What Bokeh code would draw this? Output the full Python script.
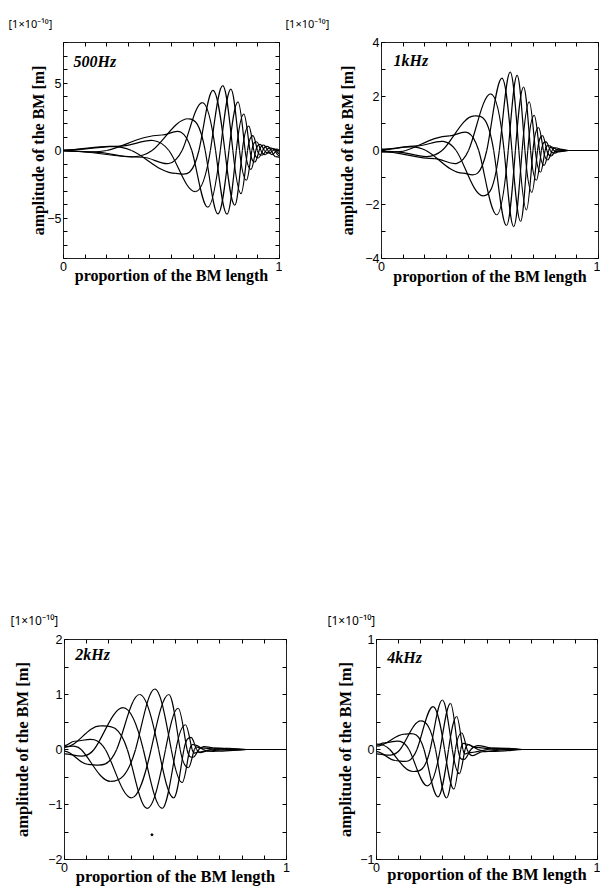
from bokeh.plotting import figure
from bokeh.models import ColumnDataSource, Label, LinearAxis, FixedTicker, Range1d, Spacer, Title
from bokeh.layouts import row, column
from bokeh.embed import file_html
from bokeh.resources import INLINE

# ---------------- data ----------------
N_CURVES = 5          # snapshots of the travelling wave

x_ticks = [0.0, 0.1, 0.2, 0.3, 0.4, 0.5, 0.6, 0.7, 0.8, 0.9, 1.0]
x_tick_labels = ["0", "", "", "", "", "", "", "", "", "", "1"]

# 500 Hz : alternating peak / trough sequence of the envelope, and zero crossings between them
f500_ext_x = [0.14, 0.265, 0.365, 0.455, 0.52, 0.578, 0.61, 0.643, 0.668, 0.692, 0.715, 0.737,
              0.757, 0.775, 0.793, 0.808, 0.822, 0.835, 0.847, 0.858, 0.868, 0.877, 0.886, 0.894,
              0.902, 0.91, 0.918, 0.926, 0.934, 0.942, 0.95, 0.958, 0.966, 0.974, 0.982, 0.99]
f500_ext_y = [-0.12, 0.32, -0.5, 1.15, -1.7, 2.35, -3.05, 3.55, -4.2, 4.45, -4.7, 4.8,
              -4.72, 4.55, -4.05, 3.6, -3.2, 2.7, -2.2, 1.8, -1.4, 1.1, -0.85, 0.65,
              -0.55, 0.45, -0.35, 0.4, -0.3, 0.3, -0.2, 0.2, -0.3, 0.15, -0.45, 0.1]
f500_zero_x = [0.2, 0.315, 0.41, 0.488, 0.549, 0.594, 0.627, 0.656, 0.68, 0.704, 0.726, 0.747,
               0.766, 0.784, 0.8, 0.815, 0.828, 0.841, 0.852, 0.863, 0.872, 0.881, 0.89, 0.898,
               0.906, 0.914, 0.922, 0.93, 0.938, 0.946, 0.954, 0.962, 0.97, 0.978, 0.986]
f500_start = [-0.01, 0.02, -0.02, -0.03, 0.03]
f500_end = [-0.1, -0.4, 0.05, -0.25, -0.5]
f500_y_ticks = [-8, -7, -6, -5, -4, -3, -2, -1, 0, 1, 2, 3, 4, 5, 6, 7, 8]
f500_y_labels = ["", "", "", "\u22125", "", "", "", "", "0", "", "", "", "", "5", "", "", ""]

# 1 kHz
f1k_ext_x = [0.06, 0.165, 0.245, 0.313, 0.375, 0.428, 0.468, 0.503, 0.531, 0.555, 0.576, 0.593,
             0.609, 0.625, 0.641, 0.655, 0.668, 0.681, 0.693, 0.704, 0.714, 0.724, 0.733, 0.742,
             0.75, 0.758, 0.766, 0.774, 0.782, 0.79, 0.798, 0.806, 0.815, 0.824, 0.834]
f1k_ext_y = [-0.04, 0.17, -0.3, 0.54, -0.84, 1.28, -1.68, 2.1, -2.38, 2.68, -2.78, 2.9,
             -2.82, 2.78, -2.62, 2.35, -2.2, 1.8, -1.55, 1.3, -1.1, 0.85, -0.8, 0.55,
             -0.55, 0.32, -0.35, 0.18, -0.2, 0.12, -0.1, 0.1, -0.05, 0.05, -0.02]
f1k_zero_x = [0.112, 0.205, 0.279, 0.344, 0.401, 0.448, 0.485, 0.517, 0.543, 0.565, 0.584, 0.601,
              0.617, 0.633, 0.648, 0.661, 0.674, 0.687, 0.698, 0.709, 0.719, 0.728, 0.737, 0.746,
              0.754, 0.762, 0.77, 0.778, 0.786, 0.794, 0.802, 0.81, 0.819, 0.829]
f1k_start = [-0.02, 0.03, -0.04, -0.05, 0.05]
f1k_merge = 0.86
f1k_y_ticks = [-4, -3, -2, -1, 0, 1, 2, 3, 4]
f1k_y_labels = ["\u22124", "", "\u22122", "", "0", "", "2", "", "4"]

# 2 kHz
f2k_ext_x = [0.045, 0.105, 0.161, 0.207, 0.264, 0.302, 0.338, 0.372, 0.407, 0.44, 0.47, 0.492,
             0.512, 0.53, 0.545, 0.558, 0.57, 0.58, 0.59, 0.6, 0.61, 0.64, 0.67, 0.7, 0.74, 0.78]
f2k_ext_y = [0.15, -0.27, 0.43, -0.58, 0.76, -0.88, 1.0, -1.07, 1.1, -1.07, 1.0, -0.88,
             0.75, -0.6, 0.45, -0.33, 0.22, -0.14, 0.08, -0.05, 0.03, -0.03, 0.03, -0.03, 0.02, -0.01]
f2k_zero_x = [0.075, 0.133, 0.184, 0.235, 0.283, 0.32, 0.355, 0.39, 0.424, 0.455, 0.481, 0.502,
              0.521, 0.538, 0.552, 0.564, 0.575, 0.585, 0.595, 0.605, 0.625, 0.655, 0.685, 0.72, 0.76]
f2k_start = [0.07, -0.03, 0.04, 0.05, -0.08]
f2k_merge = 0.82
f2k_y_ticks = [-2.0, -1.5, -1.0, -0.5, 0.0, 0.5, 1.0, 1.5, 2.0]
f2k_y_labels = ["\u22122", "", "\u22121", "", "0", "", "1", "", "2"]
f2k_speck_x = [0.394]
f2k_speck_y = [-1.55]

# 4 kHz
f4k_ext_x = [0.035, 0.085, 0.128, 0.165, 0.2, 0.23, 0.256, 0.278, 0.298, 0.317, 0.335, 0.35,
             0.363, 0.375, 0.386, 0.396, 0.405, 0.414, 0.44, 0.48, 0.52, 0.56, 0.6]
f4k_ext_y = [0.06, -0.1, 0.14, -0.2, 0.26, -0.33, 0.39, -0.43, 0.45, -0.44, 0.42, -0.36,
             0.3, -0.22, 0.15, -0.09, 0.05, -0.03, 0.02, -0.02, 0.015, -0.015, 0.01]
f4k_zero_x = [0.06, 0.107, 0.147, 0.183, 0.215, 0.243, 0.267, 0.288, 0.308, 0.326, 0.343, 0.357,
              0.369, 0.381, 0.391, 0.401, 0.41, 0.427, 0.46, 0.5, 0.54, 0.58]
f4k_start = [0.04, -0.02, 0.03, 0.05, -0.04]
f4k_merge = 0.66
f4k_y_ticks = [-1.0, -0.75, -0.5, -0.25, 0.0, 0.25, 0.5, 0.75, 1.0]
f4k_y_labels = ["\u22121", "", "", "", "0", "", "", "", "1"]

# ---------------- helpers ----------------
SERIF = "Liberation Serif"
SANS = "Liberation Sans"
EXP_FONT = "Noto Sans"
EXP_TEXT = "[1\u00d710\u207b\u00b9\u2070]"
Y_TITLE = "amplitude of the BM [m]"
X_TITLE = "proportion of the BM length"


def curve_points(ext_x, ext_y, zero_x, start, end_vals=None, merge=None):
    paths = []
    for c in range(N_CURVES):
        pts = [(0.0, start[c], "S")]
        if c - 3 >= 0:
            pts.append((zero_x[c - 3], 0.0, "Z"))
        j = c
        while j < len(ext_x):
            pts.append((ext_x[j], ext_y[j], "E"))
            if j + 2 < len(zero_x):
                pts.append((zero_x[j + 2], 0.0, "Z"))
            j += 5
        if merge is not None:
            if pts[-1][0] < merge:
                pts.append((merge, 0.0, "S"))
            pts.append((1.0, 0.0, "S"))
        else:
            pts.append((1.0, end_vals[c], "S"))
        paths.append(pts)
    return paths


def bezier_source(paths):
    d = dict(x0=[], y0=[], x1=[], y1=[], cx0=[], cy0=[], cx1=[], cy1=[])
    for pts in paths:
        n = len(pts)
        slopes = [0.0] * n
        for i in range(1, n - 1):
            x, y, t = pts[i]
            if t == "Z":
                xp, yp, _ = pts[i - 1]
                xn, yn, _ = pts[i + 1]
                m1 = 1.5708 * (y - yp) / (x - xp)
                m2 = 1.5708 * (yn - y) / (xn - x)
                slopes[i] = 0.5 * (m1 + m2)
        for i in range(n - 1):
            x0, y0, t0 = pts[i]
            x1, y1, t1 = pts[i + 1]
            dx = x1 - x0
            if t0 == "Z":
                h0 = 0.318 * dx
                c0 = (x0 + h0, y0 + slopes[i] * h0)
            else:
                h0 = 0.364 * dx
                c0 = (x0 + h0, y0)
            if t1 == "Z":
                h1 = 0.318 * dx
                c1 = (x1 - h1, y1 - slopes[i + 1] * h1)
            else:
                h1 = 0.364 * dx
                c1 = (x1 - h1, y1)
            d["x0"].append(x0); d["y0"].append(y0)
            d["x1"].append(x1); d["y1"].append(y1)
            d["cx0"].append(c0[0]); d["cy0"].append(c0[1])
            d["cx1"].append(c1[0]); d["cy1"].append(c1[1])
    return ColumnDataSource(d)


def style_axis(ax, ticks, labels, show_labels):
    ax.ticker = FixedTicker(ticks=ticks)
    ax.major_label_overrides = {t: (l if show_labels else "") for t, l in zip(ticks, labels)}
    ax.axis_line_color = None
    ax.major_tick_in = 4
    ax.major_tick_out = 0
    ax.major_tick_line_color = "black"
    ax.major_tick_line_width = 1
    ax.minor_tick_line_color = None
    ax.major_label_text_font = SANS
    ax.major_label_text_color = "black"
    if show_labels:
        ax.major_label_text_font_size = "12.5px"
        ax.major_label_standoff = 2
    else:
        ax.major_label_text_font_size = "0px"
        ax.major_label_standoff = 0


def make_panel(width, height, borders, y_range, y_ticks, y_labels, paths, name, name_pos,
               ylab_standoff, xlab_standoff, lab_size, exp_offset, exp_standoff, exp_size):
    left, right, top, bottom = borders
    p = figure(width=width, height=height, x_range=Range1d(0, 1), y_range=Range1d(*y_range),
               output_backend="svg", toolbar_location=None, tools="",
               min_border_left=left, min_border_right=right,
               min_border_top=top, min_border_bottom=bottom)
    p.grid.visible = False
    p.outline_line_color = "#222222"
    p.outline_line_width = 1
    p.background_fill_color = "white"
    p.border_fill_color = "white"

    xa = p.xaxis[0]
    style_axis(xa, x_ticks, x_tick_labels, True)
    xa.major_label_standoff = 3
    xa.axis_label = X_TITLE
    xa.axis_label_text_font = SERIF
    xa.axis_label_text_font_style = "bold"
    xa.axis_label_text_font_size = lab_size
    xa.axis_label_text_color = "black"
    xa.axis_label_standoff = xlab_standoff

    ya = p.yaxis[0]
    style_axis(ya, y_ticks, y_labels, True)
    ya.axis_label = Y_TITLE
    ya.axis_label_text_font = SERIF
    ya.axis_label_text_font_style = "bold"
    ya.axis_label_text_font_size = lab_size
    ya.axis_label_text_color = "black"
    ya.axis_label_standoff = ylab_standoff

    top_ax = LinearAxis()
    style_axis(top_ax, x_ticks, x_tick_labels, False)
    p.add_layout(top_ax, "above")
    right_ax = LinearAxis()
    style_axis(right_ax, y_ticks, y_labels, False)
    p.add_layout(right_ax, "right")

    p.add_layout(Title(text=EXP_TEXT, align="left", offset=exp_offset, standoff=exp_standoff,
                       text_font=EXP_FONT, text_font_size=f"{exp_size}px",
                       text_font_style="normal", text_color="black"), "above")

    src = bezier_source(paths)
    p.bezier(x0="x0", y0="y0", x1="x1", y1="y1", cx0="cx0", cy0="cy0", cx1="cx1", cy1="cy1",
             source=src, line_color="black", line_width=1.2)

    p.add_layout(Label(x=name_pos[0], y=name_pos[1], x_units="screen", y_units="screen",
                       text=name, text_font=SERIF, text_font_size="16px",
                       text_font_style="bold italic", text_align="left",
                       text_baseline="alphabetic", text_color="black"))
    return p


p1 = make_panel(282, 300, (63, 3, 42, 42), (-8, 8), f500_y_ticks, f500_y_labels,
                curve_points(f500_ext_x, f500_ext_y, f500_zero_x, f500_start, end_vals=f500_end),
                "500Hz", (10, 197), -3, -7, "16px", -55, 23, 11)
p2 = make_panel(318, 300, (99, 2, 42, 42), (-4, 4), f1k_y_ticks, f1k_y_labels,
                curve_points(f1k_ext_x, f1k_ext_y, f1k_zero_x, f1k_start, merge=f1k_merge),
                "1kHz", (12, 198), 6, -6, "16px", -96, 23, 11)
p3 = make_panel(300, 301, (64, 14, 49, 29), (-2, 2), f2k_y_ticks, f2k_y_labels,
                curve_points(f2k_ext_x, f2k_ext_y, f2k_zero_x, f2k_start, merge=f2k_merge),
                "2kHz", (10.7, 205), 13, -8, "16.5px", -54, 21, 12)
p3.scatter(x=f2k_speck_x, y=f2k_speck_y, size=2, color="black")
p4 = make_panel(300, 301, (76, 3, 49, 32), (-1, 1), f4k_y_ticks, f4k_y_labels,
                curve_points(f4k_ext_x, f4k_ext_y, f4k_zero_x, f4k_start, merge=f4k_merge),
                "4kHz", (10.7, 202), 2, -10, "16.5px", -49, 21, 12)

layout = column(row(p1, p2), Spacer(width=10, height=290), row(p3, p4))

open("out.html", "w").write(file_html(layout, INLINE))
